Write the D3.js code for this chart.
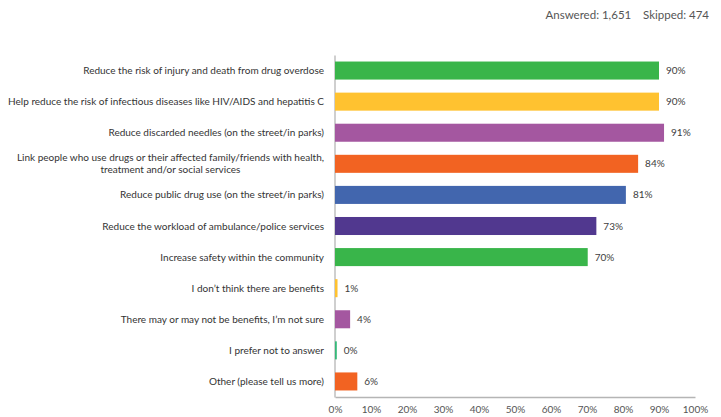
<!DOCTYPE html>
<html><head><meta charset="utf-8">
<script src="https://cdn.jsdelivr.net/npm/d3@7"></script>
<style>body{margin:0;background:#fff;} svg{display:block;}</style>
</head><body>
<svg id="chart" width="721" height="417"></svg>
<script>
const categories = [
  "Reduce the risk of injury and death from drug overdose",
  "Help reduce the risk of infectious diseases like HIV/AIDS and hepatitis C",
  "Reduce discarded needles (on the street/in parks)",
  "Link people who use drugs or their affected family/friends with health,|treatment and/or social services",
  "Reduce public drug use (on the street/in parks)",
  "Reduce the workload of ambulance/police services",
  "Increase safety within the community",
  "I don\u2019t think there are benefits",
  "There may or may not be benefits, I\u2019m not sure",
  "I prefer not to answer",
  "Other (please tell us more)"
];
const values = [90.0, 90.0, 91.4, 84.2, 80.8, 72.6, 70.2, 0.7, 4.2, 0.5, 6.2];
const valueLabels = ["90%","90%","91%","84%","81%","73%","70%","1%","4%","0%","6%"];
const colors = ["#39b54a","#ffc230","#a457a0","#f26322","#4266ae","#51388f","#39b54a","#ffc230","#a457a0","#35b979","#f26322"];
const tickValues = [0,10,20,30,40,50,60,70,80,90,100];
const headerText = "Answered: 1,651\u00a0\u00a0\u00a0\u00a0Skipped: 474";

const svg = d3.select("#chart");
const font = "Lato, 'Open Sans', sans-serif";
const fs = 10;
const x = d3.scaleLinear().domain([0,100]).range([335,695]);
const y = d3.scaleBand().domain(d3.range(categories.length)).range([55,397]).paddingInner(0.42).paddingOuter(0.21);

svg.append("text").attr("x",709).attr("y",19).attr("text-anchor","end")
  .attr("font-family",font).attr("font-size",11.5).attr("fill","#555").text(headerText);

// axes
const xAxis = d3.axisBottom(x).tickValues(tickValues).tickSize(0).tickPadding(9).tickFormat(d=>d+"%");
const gx = svg.append("g").attr("transform","translate(0,397)").call(xAxis);
gx.select(".domain").attr("stroke","#b5b5b5").attr("stroke-width",1.3);
gx.selectAll("text").attr("font-family",font).attr("font-size",fs).attr("fill","#555");

const yAxis = d3.axisLeft(y).tickSize(0).tickFormat("");
const gy = svg.append("g").attr("transform","translate(334.5,0)").call(yAxis);
gy.select(".domain").attr("stroke","#b5b5b5").attr("stroke-width",1.3);

// bars
svg.selectAll("rect.bar").data(values).enter().append("rect")
  .attr("class","bar")
  .attr("x",x(0)).attr("y",(d,i)=>y(i))
  .attr("width",d=>x(d)-x(0)).attr("height",y.bandwidth())
  .attr("fill",(d,i)=>colors[i]);

// value labels
svg.selectAll("text.val").data(values).enter().append("text")
  .attr("class","val")
  .attr("x",d=>x(d)+7).attr("y",(d,i)=>y(i)+y.bandwidth()/2)
  .attr("dy","0.35em").attr("font-family",font).attr("font-size",fs).attr("fill","#404040")
  .text((d,i)=>valueLabels[i]);

// category labels
categories.forEach((c,i)=>{
  const lines = c.split("|");
  const cy = y(i)+y.bandwidth()/2;
  if(lines.length===1){
    svg.append("text").attr("x",324).attr("y",cy).attr("dy","0.35em")
      .attr("text-anchor","end").attr("font-family",font).attr("font-size",fs).attr("fill","#333").text(c);
  } else {
    const t1 = svg.append("text").attr("x",324).attr("y",cy-6).attr("dy","0.35em")
      .attr("text-anchor","end").attr("font-family",font).attr("font-size",fs).attr("fill","#333").text(lines[0]);
    const w = t1.node().getComputedTextLength();
    svg.append("text").attr("x",324-w/2).attr("y",cy+6).attr("dy","0.35em")
      .attr("text-anchor","middle").attr("font-family",font).attr("font-size",fs).attr("fill","#333").text(lines[1]);
  }
});
</script>
</body></html>
